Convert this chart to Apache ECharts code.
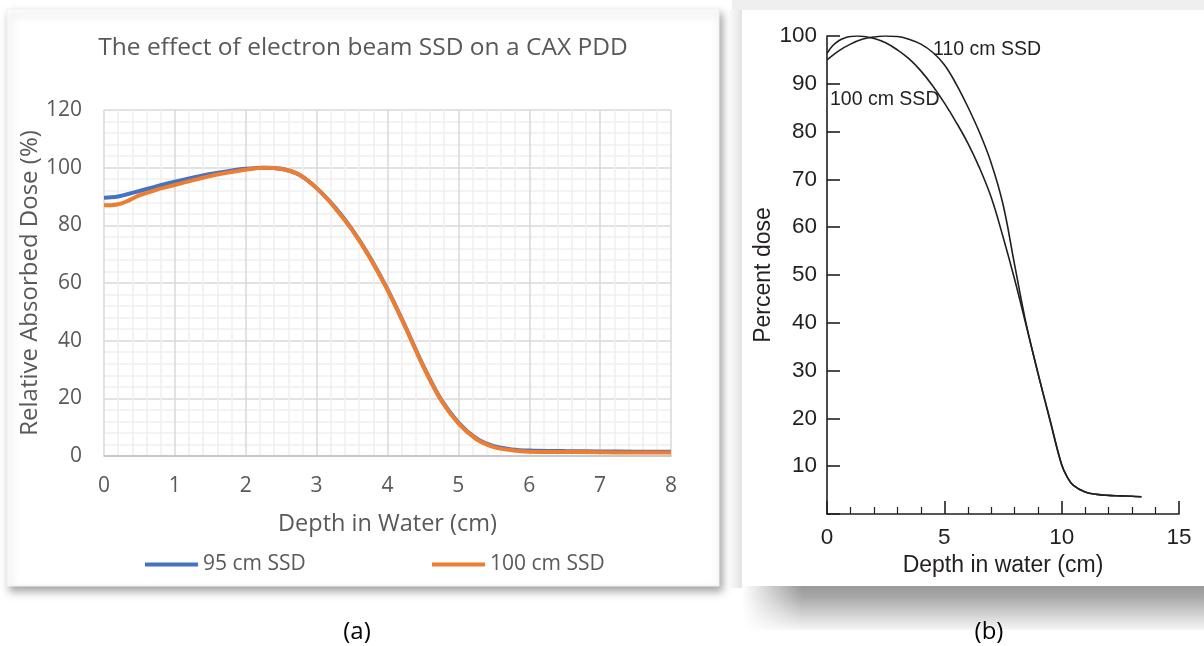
<!DOCTYPE html>
<html>
<head>
<meta charset="utf-8">
<script src="https://cdn.jsdelivr.net/npm/echarts@6/dist/echarts.min.js"></script>
<style>
  html, body { margin: 0; padding: 0; background: #ffffff; }
  #chart { width: 1204px; height: 646px; }
</style>
</head>
<body>
<div id="chart"></div>
<script>
// Panel (a): central-axis PDD at two SSDs (depth in cm, relative dose in %)
const depthA = [0, 0.1, 0.2, 0.3, 0.5, 0.75, 1, 1.25, 1.5, 1.75, 2, 2.25, 2.5, 2.75, 3, 3.25, 3.5, 3.75, 4, 4.25, 4.5, 4.75, 5, 5.25, 5.5, 5.75, 6, 6.5, 7, 7.5, 8];
const dose95 = [89.6, 89.7, 90.0, 90.6, 91.9, 93.6, 95.1, 96.5, 97.8, 98.8, 99.6, 100.0, 99.6, 97.6, 92.9, 86.5, 78.6, 69.0, 57.8, 45.0, 31.5, 19.8, 11.6, 6.2, 3.4, 2.3, 1.9, 1.7, 1.6, 1.5, 1.5];
const dose100a = [87.0, 87.0, 87.3, 88.1, 90.4, 92.4, 94.0, 95.6, 97.1, 98.3, 99.3, 100.0, 99.6, 97.6, 92.9, 86.3, 78.4, 68.8, 57.6, 44.8, 31.3, 19.6, 11.3, 5.9, 3.1, 2.0, 1.5, 1.4, 1.3, 1.2, 1.2];
const seriesNamesA = ['95 cm SSD', '100 cm SSD'];
const xTicksA = { min: 0, max: 8, interval: 1 };
const yTicksA = { min: 0, max: 120, interval: 20 };

// Panel (b): percent depth dose at 100 and 110 cm SSD
const depthB100 = [0, 0.25, 0.5, 0.75, 1, 1.3, 1.6, 2, 2.5, 3, 3.5, 4, 4.5, 5, 5.5, 6, 6.5, 7, 7.5, 8, 8.5, 9, 9.5, 10, 10.25, 10.5, 11, 11.5, 12, 12.5, 13, 13.4];
const doseB100 = [96.4, 98.0, 99.0, 99.6, 99.9, 100, 99.9, 99.5, 98.6, 97.1, 95.2, 92.7, 89.6, 86.0, 82.0, 77.6, 72.4, 66.2, 58.0, 49.0, 39.2, 29.3, 19.6, 10.3, 7.6, 6.0, 4.6, 4.1, 3.9, 3.8, 3.7, 3.6];
const depthB110 = [0, 0.5, 1, 1.5, 2, 2.5, 3, 3.5, 4, 4.5, 5, 5.5, 6, 6.5, 7, 7.5, 8, 8.5, 9, 9.5, 10, 10.25, 10.5, 11, 11.5, 12, 12.5, 13, 13.4];
const doseB110 = [95.0, 96.9, 98.3, 99.3, 99.8, 100, 99.9, 99.3, 98.3, 96.6, 94.0, 90.0, 85.2, 79.8, 73.4, 64.8, 52.0, 39.5, 29.2, 19.8, 10.3, 7.6, 6.0, 4.6, 4.1, 3.9, 3.8, 3.7, 3.6];
const seriesNamesB = ['100 cm SSD', '110 cm SSD'];
const xTicksB = { min: 0, max: 15, interval: 5 };
const yTicksB = { min: 0, max: 100, interval: 10 };

const pairs = (xs, ys) => xs.map((x, i) => [x, ys[i]]);

const fontA = '"Open Sans", sans-serif';
const fontB = '"Liberation Sans", Arial, sans-serif';
const greyText = '#595959';
const inkB = '#231f20';

const chart = echarts.init(document.getElementById('chart'), null, { renderer: 'canvas' });

chart.setOption({
  animation: false,
  backgroundColor: '#ffffff',
  graphic: {
    elements: [
      // right-hand panel surroundings
      { type: 'rect', z: -20, shape: { x: 732, y: 0, width: 472, height: 10 }, style: { fill: '#efefef' } },
      { type: 'rect', z: -20, shape: { x: 730, y: 10, width: 12, height: 578 },
        style: { fill: new echarts.graphic.LinearGradient(0, 0, 1, 0, [
          { offset: 0, color: '#fbfbfb' }, { offset: 1, color: '#e2e2e2' }]) } },
      { type: 'rect', z: -20, shape: { x: 742, y: 586, width: 462, height: 44 },
        style: { fill: new echarts.graphic.LinearGradient(0, 0, 0, 1, [
          { offset: 0, color: '#999999' }, { offset: 0.25, color: '#a8a8a8' }, { offset: 0.55, color: '#c8c8c8' }, { offset: 1, color: '#f6f6f6' }]) } },
      { type: 'rect', z: -19, shape: { x: 742, y: 586, width: 60, height: 44 },
        style: { fill: new echarts.graphic.LinearGradient(0, 0, 1, 0, [
          { offset: 0, color: 'rgba(255,255,255,1)' }, { offset: 1, color: 'rgba(255,255,255,0)' }]) } },
      { type: 'rect', z: -18, shape: { x: 742, y: 10, width: 462, height: 576 }, style: { fill: '#ffffff' } },
      // left-hand panel card
      { type: 'rect', z: -18, shape: { x: 7, y: 9, width: 712, height: 577 },
        style: { fill: '#ffffff', stroke: '#f0f0f0', lineWidth: 1,
          shadowBlur: 8, shadowOffsetX: 3, shadowOffsetY: 5, shadowColor: 'rgba(0,0,0,0.35)' } },
      // titles and captions
      { type: 'text', z: 50, style: { text: 'The effect of electron beam SSD on a CAX PDD', x: 363, y: 48,
        textAlign: 'center', textVerticalAlign: 'middle', fill: greyText, font: '24.5px ' + fontA } },
      { type: 'text', z: 50, style: { text: '(a)', x: 357, y: 632, textAlign: 'center', textVerticalAlign: 'middle',
        fill: '#000000', font: '24px ' + fontA } },
      { type: 'text', z: 50, style: { text: '(b)', x: 989, y: 632, textAlign: 'center', textVerticalAlign: 'middle',
        fill: '#000000', font: '24px ' + fontA } },
      // curve labels on panel (b)
      { type: 'text', z: 50, style: { text: '110 cm SSD', x: 933, y: 50, textAlign: 'left', textVerticalAlign: 'middle',
        fill: inkB, font: '19.5px ' + fontB } },
      { type: 'text', z: 50, style: { text: '100 cm SSD', x: 830, y: 100, textAlign: 'left', textVerticalAlign: 'middle',
        fill: inkB, font: '19.5px ' + fontB } }
    ]
  },
  legend: [
    { left: 140, top: 549, data: [seriesNamesA[0]], icon: 'rect', itemWidth: 53, itemHeight: 4, itemGap: 4,
      textStyle: { color: greyText, fontFamily: fontA, fontSize: 21 } },
    { left: 427, top: 549, data: [seriesNamesA[1]], icon: 'rect', itemWidth: 53, itemHeight: 4, itemGap: 4,
      textStyle: { color: greyText, fontFamily: fontA, fontSize: 21 } }
  ],
  grid: [
    { left: 104, top: 110, width: 567, height: 346, containLabel: false },
    { left: 827, top: 36, width: 352, height: 478, containLabel: false }
  ],
  xAxis: [
    {
      gridIndex: 0, type: 'value', min: xTicksA.min, max: xTicksA.max, interval: xTicksA.interval,
      name: 'Depth in Water (cm)', nameLocation: 'middle', nameGap: 56,
      nameTextStyle: { color: greyText, fontFamily: fontA, fontSize: 23.5 },
      axisLine: { show: true, lineStyle: { color: '#bfbfbf', width: 1.5 } },
      axisTick: { show: false },
      axisLabel: { color: greyText, fontFamily: fontA, fontSize: 21, margin: 20 },
      splitLine: { show: true, lineStyle: { color: '#d9d9d9', width: 1.5 } },
      minorTick: { show: false, splitNumber: 5 },
      minorSplitLine: { show: true, lineStyle: { color: '#efefef', width: 1.5 } }
    },
    {
      gridIndex: 1, type: 'value', min: xTicksB.min, max: xTicksB.max, interval: xTicksB.interval,
      name: 'Depth in water (cm)', nameLocation: 'middle', nameGap: 39.5,
      nameTextStyle: { color: inkB, fontFamily: fontB, fontSize: 23 },
      axisLine: { show: true, onZero: false, lineStyle: { color: inkB, width: 1.6 } },
      axisTick: { show: true, inside: true, length: 13, lineStyle: { color: inkB, width: 1.6 } },
      minorTick: { show: true, splitNumber: 5, length: 7, lineStyle: { color: inkB, width: 1.2 } },
      axisLabel: { color: inkB, fontFamily: fontB, fontSize: 22.5, margin: 12 },
      splitLine: { show: false }
    }
  ],
  yAxis: [
    {
      gridIndex: 0, type: 'value', min: yTicksA.min, max: yTicksA.max, interval: yTicksA.interval,
      name: 'Relative Absorbed Dose (%)', nameLocation: 'middle', nameGap: 62,
      nameTextStyle: { color: greyText, fontFamily: fontA, fontSize: 24 },
      axisLine: { show: false },
      axisTick: { show: false },
      axisLabel: { color: greyText, fontFamily: fontA, fontSize: 21, margin: 22 },
      splitLine: { show: true, lineStyle: { color: '#d9d9d9', width: 1.5 } },
      minorTick: { show: false, splitNumber: 5 },
      minorSplitLine: { show: true, lineStyle: { color: '#efefef', width: 1.5 } }
    },
    {
      gridIndex: 1, type: 'value', min: yTicksB.min, max: yTicksB.max, interval: yTicksB.interval,
      name: 'Percent dose', nameLocation: 'middle', nameGap: 50.5,
      nameTextStyle: { color: inkB, fontFamily: fontB, fontSize: 23 },
      axisLine: { show: true, onZero: false, lineStyle: { color: inkB, width: 1.6 } },
      axisTick: { show: true, inside: true, length: 13, lineStyle: { color: inkB, width: 1.6 } },
      axisLabel: { color: inkB, fontFamily: fontB, fontSize: 22.5, margin: 10,
        formatter: v => (v === 0 ? '' : String(v)) },
      splitLine: { show: false }
    }
  ],
  series: [
    { name: seriesNamesA[0], type: 'line', xAxisIndex: 0, yAxisIndex: 0, data: pairs(depthA, dose95),
      smooth: 0.3, showSymbol: false, color: '#4472c4', lineStyle: { width: 4, color: '#4472c4' }, z: 3 },
    { name: seriesNamesA[1], type: 'line', xAxisIndex: 0, yAxisIndex: 0, data: pairs(depthA, dose100a),
      smooth: 0.3, showSymbol: false, color: '#ed7d31', lineStyle: { width: 4, color: '#ed7d31' }, z: 4 },
    { name: seriesNamesB[0], type: 'line', xAxisIndex: 1, yAxisIndex: 1, data: pairs(depthB100, doseB100),
      smooth: 0.4, showSymbol: false, lineStyle: { width: 1.6, color: inkB }, z: 3 },
    { name: seriesNamesB[1], type: 'line', xAxisIndex: 1, yAxisIndex: 1, data: pairs(depthB110, doseB110),
      smooth: 0.4, showSymbol: false, lineStyle: { width: 1.6, color: inkB }, z: 3 }
  ]
});
</script>
</body>
</html>
